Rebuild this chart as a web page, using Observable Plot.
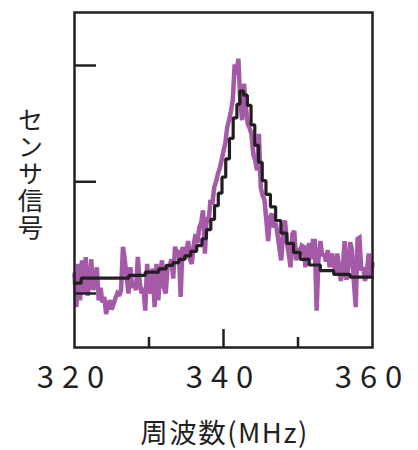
<!DOCTYPE html>
<html>
<head>
<meta charset="utf-8">
<script src="https://cdn.jsdelivr.net/npm/d3@7"></script>
<script src="https://cdn.jsdelivr.net/npm/@observablehq/plot@0.6"></script>
<style>
  html, body { margin: 0; padding: 0; background: #fff; }
  #chart g[aria-label="x-axis tick label"] text { letter-spacing: 8px; }
  #chart g.xtitle text { letter-spacing: 1.5px; }
  #chart g.ytitle text { writing-mode: vertical-rl; text-orientation: upright; letter-spacing: 1.5px; }
</style>
</head>
<body>
<div id="chart"></div>
<script>
// Measured sensor signal (purple), sampled every 0.25 MHz from 320 MHz
const sensorStartMHz = 320;
const sensorStepMHz = 0.25;
const sensorSignal = [
  0.17, -0.12, 0.26, -0.06, 0.29, 0.0, 0.32, -0.02, 0.10,
  0.30, 0.03, 0.11, 0.23, -0.06, 0.05, -0.08, -0.03,
  -0.18, -0.10, -0.06, -0.14, -0.09, -0.04, 0.0, -0.02,
  0.03, 0.41, 0.30, 0.14, 0.0, 0.23, 0.05, 0.08,
  0.03, 0.32, 0.10, 0.0, 0.05, -0.15, 0.26, 0.05,
  0.0, 0.22, -0.12, 0.26, -0.06, 0.18, 0.29, 0.05,
  0.0, 0.25, 0.23, 0.30, 0.13, 0.41, 0.34, 0.38,
  -0.03, 0.41, 0.30, 0.35, 0.46, 0.30, 0.26, 0.43,
  0.52, 0.44, 0.58, 0.62, 0.73, 0.35, 0.67, 0.62,
  0.82, 0.78, 0.93, 0.98, 1.05, 1.10, 1.17, 1.25,
  1.32, 1.46, 1.52, 1.60, 1.70, 2.01, 1.92, 2.06,
  1.69, 1.52, 1.84, 1.64, 1.49, 1.45, 1.40, 1.22,
  1.17, 1.08, 1.40, 0.93, 0.86, 0.82, 0.64, 0.46,
  0.67, 0.70, 0.58, 0.62, 0.52, 0.40, 0.29, 0.55,
  0.64, 0.45, 0.35, 0.23, 0.52, 0.55, 0.29, 0.40,
  0.35, 0.42, 0.41, 0.23, 0.38, 0.44, 0.30, 0.46,
  0.46, -0.15, 0.30, 0.46, 0.33, 0.35, 0.28, 0.38,
  0.23, 0.35, 0.30, 0.17, 0.35, 0.25, 0.11, 0.20,
  0.46, 0.12, 0.23, 0.45, 0.38, 0.10, -0.12, 0.48,
  0.49, 0.20, 0.23, 0.11, 0.20, 0.35, 0.14, 0.26
];

// Fitted curve (black, stepped)
const fitFreq = [320, 320.9, 327.3, 329.5, 331.3, 332.3, 333.2, 334, 334.8, 335.6,
  336.4, 337.1, 337.7, 338.3, 338.8, 339.3, 339.8, 340.3, 340.8, 341.3,
  341.8, 342.2, 342.7, 343.2, 343.7, 344.2, 344.7, 345.2, 345.7, 346.3,
  347, 347.7, 348.5, 349.4, 350.3, 351.5, 353, 354.8, 357, 360];
const fitSignal = [0.09, 0.134, 0.158, 0.187, 0.216, 0.246, 0.27, 0.30, 0.33, 0.37,
  0.42, 0.48, 0.56, 0.65, 0.77, 0.88, 1.02, 1.18, 1.36, 1.54,
  1.66, 1.775, 1.74, 1.65, 1.48, 1.30, 1.15, 0.99, 0.87, 0.76,
  0.64, 0.53, 0.44, 0.36, 0.30, 0.25, 0.20, 0.167, 0.143, 0.143];

const xTickLabels = [320, 340, 360];
const xMinorTicks = [330, 350];
const xMajorTicks = [340];
const yTicks = [0, 0.98, 2];
const xTitle = "周波数(MHz)";
const yTitle = "センサ信号";

const sensorData = sensorSignal.map((v, i) => ({f: sensorStartMHz + i * sensorStepMHz, v}));
const fitData = fitFreq.map((f, i) => ({f, v: fitSignal[i]}));

const ink = "#231f20";
const font = "'Noto Sans CJK JP', 'Noto Sans', sans-serif";

const chart = Plot.plot({
  width: 418,
  height: 450,
  marginLeft: 74,
  marginRight: 46,
  marginTop: 12,
  marginBottom: 103,
  style: {fontFamily: font, color: ink, background: "#fff"},
  x: {domain: [320, 360]},
  y: {domain: [-0.474, 2.465]},
  marks: [
    Plot.line(sensorData, {x: "f", y: "v", stroke: "#a55aa8", strokeWidth: 4.5, strokeLinejoin: "miter", strokeMiterlimit: 2}),
    Plot.line(fitData, {x: "f", y: "v", stroke: ink, strokeWidth: 3.2, curve: "step-after", strokeLinejoin: "miter"}),
    Plot.axisY({ticks: yTicks, tickSize: -22, tickFormat: () => "", label: null, stroke: ink, strokeWidth: 2.5}),
    Plot.axisX({ticks: xMinorTicks, tickSize: -10, tickFormat: () => "", label: null, stroke: ink, strokeWidth: 2.5}),
    Plot.axisX({ticks: xMajorTicks, tickSize: -18, tickFormat: () => "", label: null, stroke: ink, strokeWidth: 2.5}),
    Plot.axisX({ticks: xTickLabels, tickSize: 0, tickPadding: 18, fontSize: 31, label: null, fill: ink}),
    Plot.frame({stroke: ink, strokeWidth: 2.5}),
    Plot.text([xTitle], {frameAnchor: "bottom", dx: 1, dy: 87, lineAnchor: "middle", fontSize: 27.5, fill: ink, text: d => d, className: "xtitle"}),
    Plot.text([yTitle], {frameAnchor: "left", dx: -44, dy: -14, textAnchor: "middle", fontSize: 25.5, fill: ink, text: d => d, className: "ytitle"})
  ]
});
document.getElementById("chart").append(chart);
</script>
</body>
</html>
